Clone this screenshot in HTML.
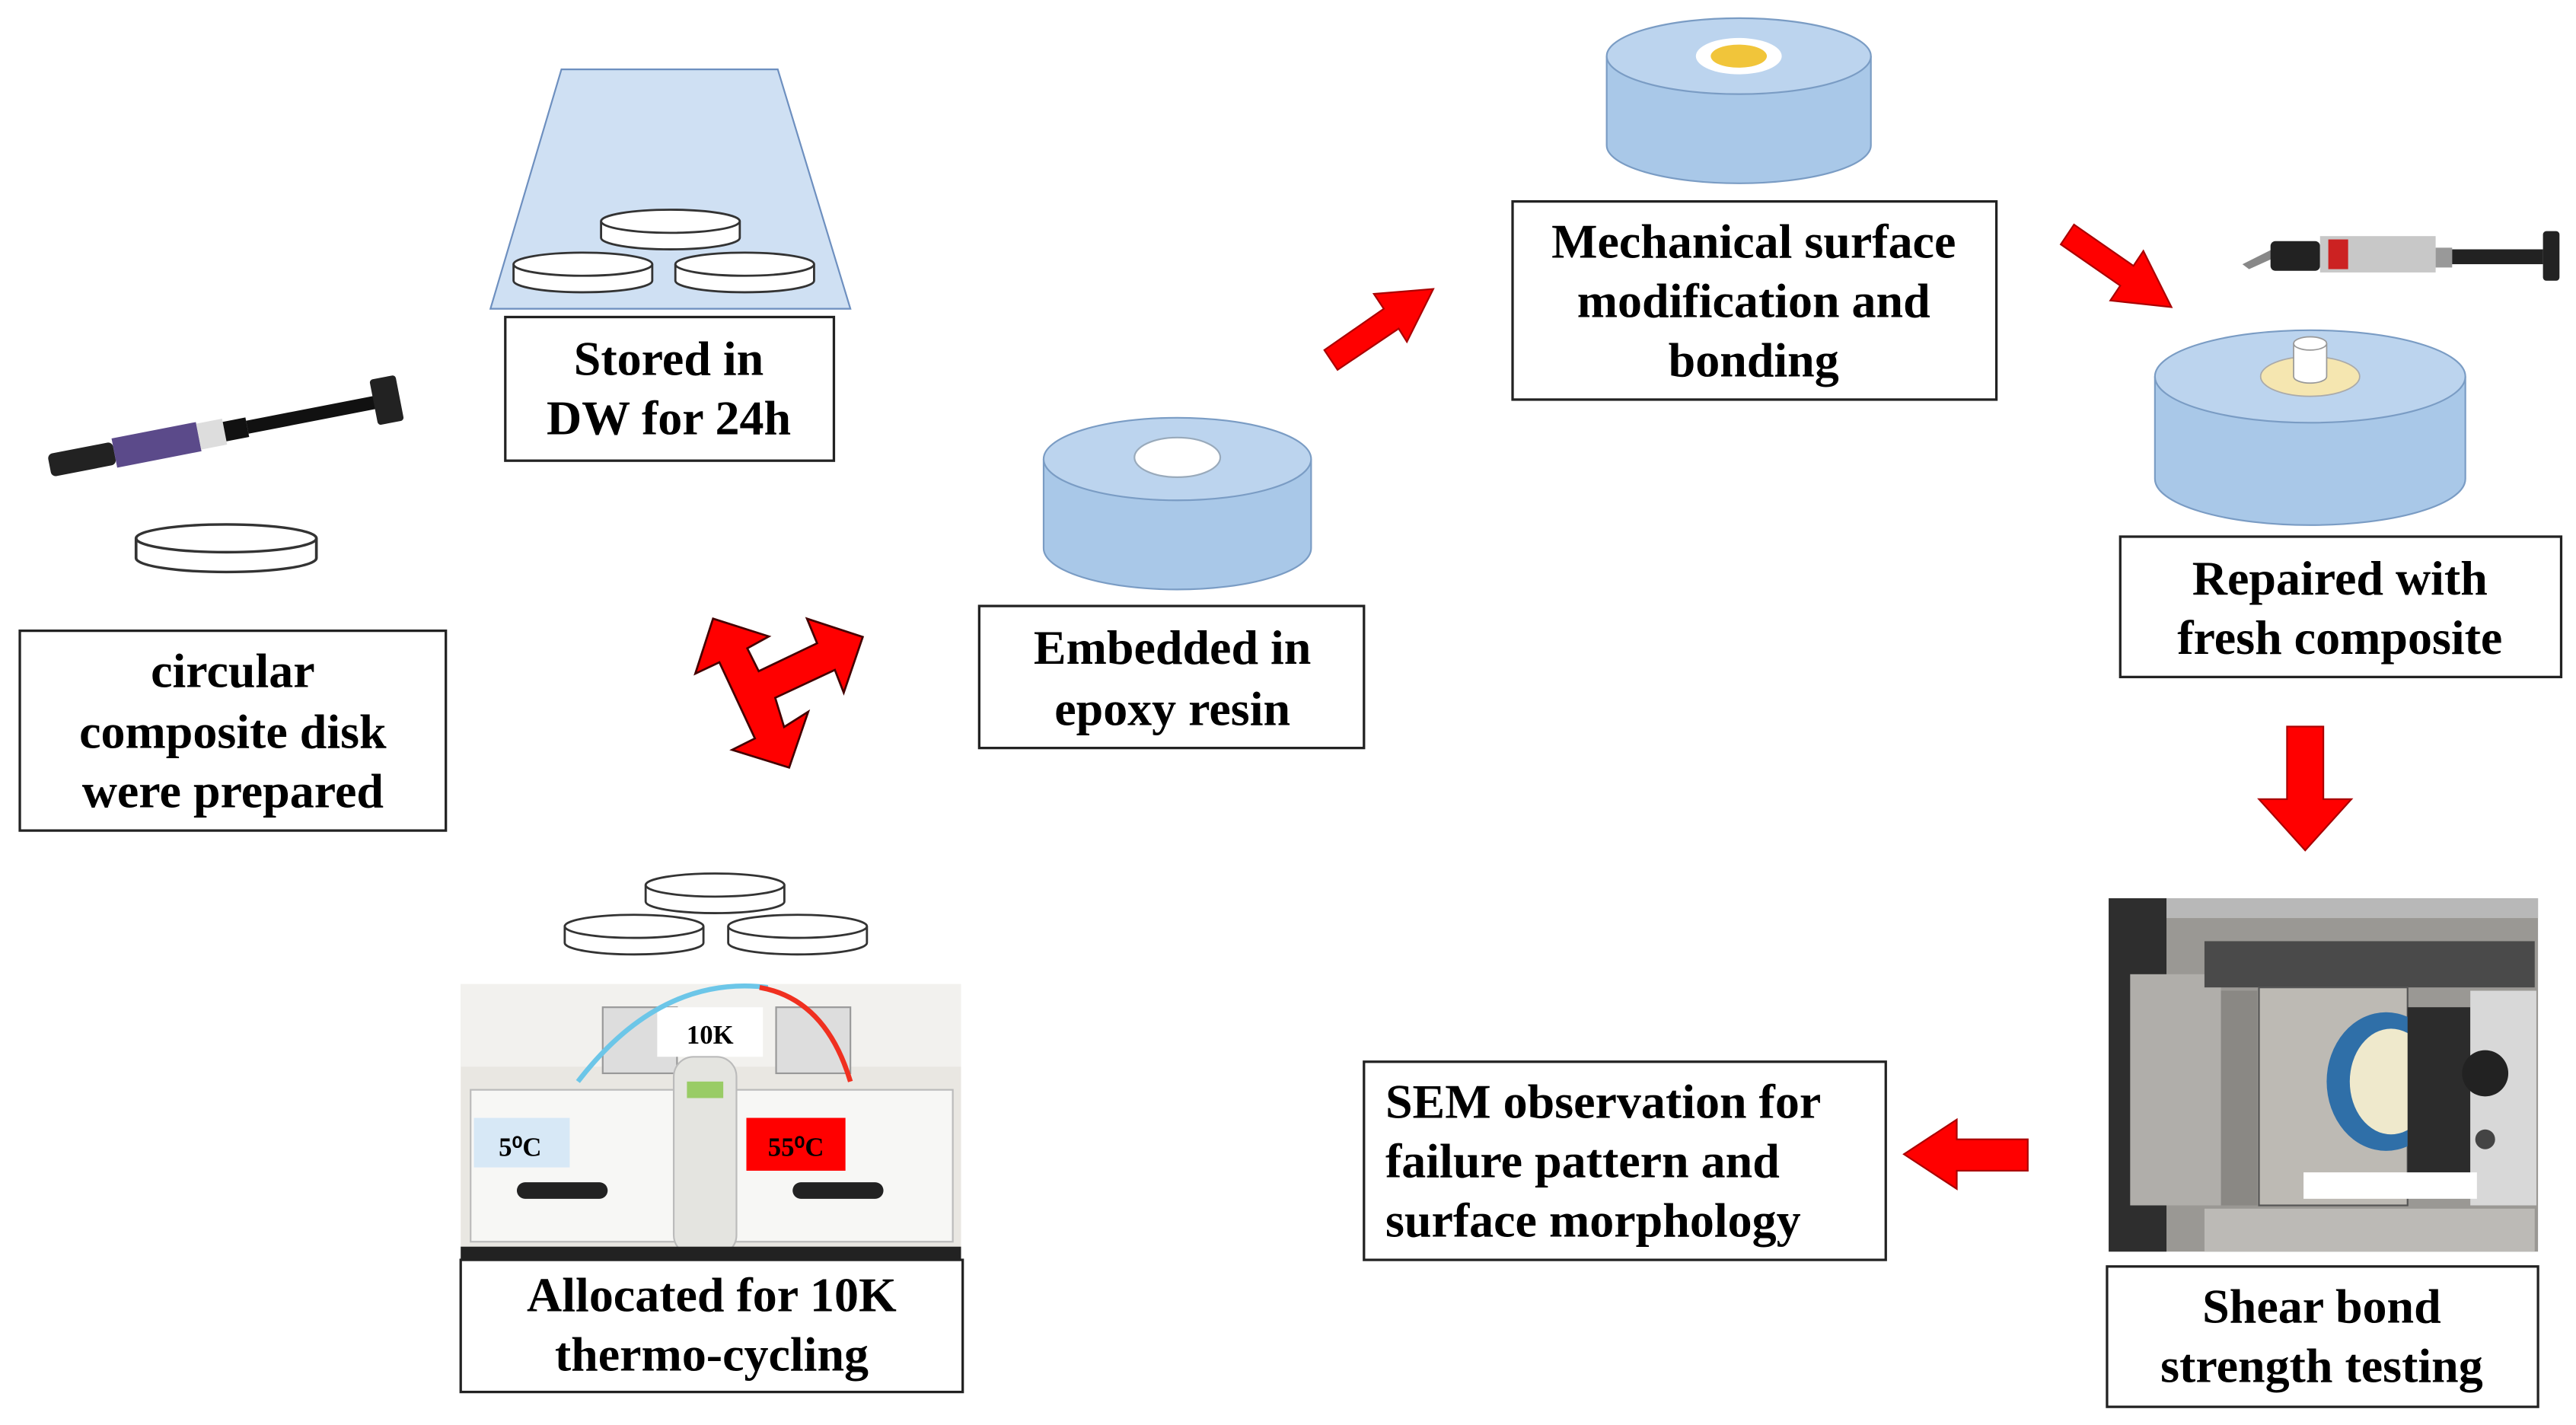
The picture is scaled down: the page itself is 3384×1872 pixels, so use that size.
<!DOCTYPE html>
<html><head><meta charset="utf-8"><style>
html,body{margin:0;padding:0;background:#fff;}
svg{display:block;}
text{font-family:"Liberation Serif",serif;font-weight:bold;fill:#000;}
</style></head><body>
<svg width="3384" height="1872" viewBox="0 0 1560 863" preserveAspectRatio="none" xmlns="http://www.w3.org/2000/svg">
<defs>
<g id="disk"><path d="M-42,0 L-42,10 A42,7 0 0 0 42,10 L42,0" fill="#fff" stroke="#333" stroke-width="1.3"/><ellipse cx="0" cy="0" rx="42" ry="7" fill="#fff" stroke="#333" stroke-width="1.3"/></g>
</defs>
<rect width="1560" height="863" fill="#fff"/>

<!-- syringe left -->
<g transform="translate(30,282) rotate(-11)">
<rect x="0" y="-7" width="40" height="14" fill="#222" rx="3"/>
<rect x="40" y="-9" width="52" height="18" fill="#5b4a8a"/>
<rect x="92" y="-8" width="16" height="16" fill="#ddd"/>
<rect x="108" y="-6" width="14" height="12" fill="#111"/>
<rect x="122" y="-4" width="80" height="8" fill="#111"/>
<rect x="200" y="-14" width="16" height="28" fill="#222" rx="2"/>
</g>
<g transform="translate(137,326) scale(1.3,1.2)"><use href="#disk"/></g>
<rect x="12" y="382" width="258" height="121" fill="#fff" stroke="#222" stroke-width="1.5"/>
<text x="141" y="416" font-size="29.5" text-anchor="middle">circular</text>
<text x="141" y="453" font-size="29.5" text-anchor="middle">composite disk</text>
<text x="141" y="489" font-size="29.5" text-anchor="middle">were prepared</text>

<!-- trapezoid -->
<polygon points="340,42 471,42 515,187 297,187" fill="#cfe0f3" stroke="#6d8fbf" stroke-width="1"/>
<g transform="translate(406,134)"><use href="#disk"/></g>
<g transform="translate(353,160)"><use href="#disk"/></g>
<g transform="translate(451,160)"><use href="#disk"/></g>
<rect x="306" y="192" width="199" height="87" fill="#fff" stroke="#222" stroke-width="1.5"/>
<text x="405" y="227" font-size="29.5" text-anchor="middle">Stored in</text>
<text x="405" y="263" font-size="29.5" text-anchor="middle">DW for 24h</text>

<!-- triple arrow -->
<g transform="translate(414.9,364.2) scale(0.1537)">
<polygon points="110,68 330,138 245,185 290,275 520,165 480,68 700,140 625,360 590,270 355,380 390,495 485,435 410,655 185,585 275,540 135,240 40,285" fill="#f00" stroke="#400" stroke-width="8" stroke-linejoin="miter"/>
</g>

<!-- embedded cylinder -->
<path d="M632,278 L632,332 A81,25 0 0 0 794,332 L794,278" fill="#a9c8e8" stroke="#7a9cc4" stroke-width="1"/>
<ellipse cx="713" cy="278" rx="81" ry="25" fill="#bcd4ee" stroke="#7a9cc4" stroke-width="1"/>
<ellipse cx="713" cy="277" rx="26" ry="12" fill="#fff" stroke="#9ab" stroke-width="1"/>
<rect x="593" y="367" width="233" height="86" fill="#fff" stroke="#222" stroke-width="1.5"/>
<text x="710" y="402" font-size="29.5" text-anchor="middle">Embedded in</text>
<text x="710" y="439" font-size="29.5" text-anchor="middle">epoxy resin</text>

<!-- arrow up-right -->
<polygon points="802,212 838,187 832,178 868,175 852,207 847,199 810,224" fill="#f00" stroke="#a00" stroke-width="1"/>

<!-- top cylinder -->
<path d="M973,34 L973,88 A80,23 0 0 0 1133,88 L1133,34" fill="#a9c8e8" stroke="#7a9cc4" stroke-width="1"/>
<ellipse cx="1053" cy="34" rx="80" ry="23" fill="#bcd4ee" stroke="#7a9cc4" stroke-width="1"/>
<ellipse cx="1053" cy="34" rx="26" ry="11" fill="#fff"/>
<ellipse cx="1053" cy="34" rx="17" ry="7" fill="#f1c53a"/>
<rect x="916" y="122" width="293" height="120" fill="#fff" stroke="#222" stroke-width="1.5"/>
<text x="1062" y="156" font-size="29.5" text-anchor="middle">Mechanical surface</text>
<text x="1062" y="192" font-size="29.5" text-anchor="middle">modification and</text>
<text x="1062" y="228" font-size="29.5" text-anchor="middle">bonding</text>

<!-- arrow down-right -->
<polygon points="1248,148 1256,136 1292,161 1298,152 1315,186 1278,182 1284,173" fill="#f00" stroke="#a00" stroke-width="1"/>

<!-- syringe right -->
<g>
<polygon points="1358,160 1378,150 1382,154 1362,163" fill="#888"/>
<rect x="1375" y="146" width="30" height="18" fill="#222" rx="3"/>
<rect x="1405" y="143" width="70" height="22" fill="#c8c8c8"/>
<rect x="1410" y="145" width="12" height="18" fill="#c22"/>
<rect x="1475" y="150" width="10" height="12" fill="#999"/>
<rect x="1485" y="151" width="55" height="9" fill="#222"/>
<rect x="1540" y="140" width="10" height="30" fill="#222" rx="2"/>
</g>

<!-- right cylinder -->
<path d="M1305,228 L1305,290 A94,28 0 0 0 1493,290 L1493,228" fill="#a9c8e8" stroke="#7a9cc4" stroke-width="1"/>
<ellipse cx="1399" cy="228" rx="94" ry="28" fill="#bcd4ee" stroke="#7a9cc4" stroke-width="1"/>
<ellipse cx="1399" cy="228" rx="30" ry="12" fill="#f5e6b0" stroke="#aaa" stroke-width="0.8"/>
<path d="M1389,208 L1389,228 A10,4 0 0 0 1409,228 L1409,208" fill="#fff" stroke="#999" stroke-width="0.8"/>
<ellipse cx="1399" cy="208" rx="10" ry="4" fill="#fff" stroke="#999" stroke-width="0.8"/>
<rect x="1284" y="325" width="267" height="85" fill="#fff" stroke="#222" stroke-width="1.5"/>
<text x="1417" y="360" font-size="29.5" text-anchor="middle">Repaired with</text>
<text x="1417" y="396" font-size="29.5" text-anchor="middle">fresh composite</text>

<!-- down arrow -->
<polygon points="1385,440 1407,440 1407,484 1424,484 1396,515 1368,484 1385,484" fill="#f00" stroke="#a00" stroke-width="1"/>

<!-- shear photo -->
<rect x="1277" y="544" width="260" height="214" fill="#9a9894"/>
<rect x="1277" y="544" width="260" height="12" fill="#b8b8b8"/>
<rect x="1277" y="544" width="35" height="214" fill="#2e2e2e"/>
<rect x="1290" y="590" width="55" height="140" fill="#b0aeaa"/>
<rect x="1345" y="600" width="22" height="130" fill="#8a8884"/>
<rect x="1335" y="570" width="200" height="28" fill="#4a4a4a"/>
<rect x="1335" y="732" width="200" height="26" fill="#bcbab6"/>
<rect x="1368" y="598" width="90" height="132" fill="#bdbab4" stroke="#555"/>
<ellipse cx="1445" cy="655" rx="36" ry="42" fill="#2f6fa8"/>
<ellipse cx="1448" cy="655" rx="25" ry="32" fill="#efe9cc"/>
<rect x="1458" y="610" width="38" height="108" fill="#2c2c2c"/>
<rect x="1496" y="600" width="40" height="130" fill="#d8d8d8"/>
<circle cx="1505" cy="650" r="14" fill="#222"/>
<circle cx="1505" cy="690" r="6" fill="#444"/>
<rect x="1395" y="710" width="105" height="16" fill="#fff"/>
<rect x="1276" y="767" width="261" height="85" fill="#fff" stroke="#222" stroke-width="1.5"/>
<text x="1406" y="801" font-size="29.5" text-anchor="middle">Shear bond</text>
<text x="1406" y="837" font-size="29.5" text-anchor="middle">strength testing</text>

<!-- left arrow -->
<polygon points="1228,690 1228,709 1185,709 1185,720 1153,699 1185,678 1185,690" fill="#f00" stroke="#a00" stroke-width="1"/>
<rect x="826" y="643" width="316" height="120" fill="#fff" stroke="#222" stroke-width="1.5"/>
<text x="839" y="677" font-size="29.5">SEM observation for</text>
<text x="839" y="713" font-size="29.5">failure pattern and</text>
<text x="839" y="749" font-size="29.5">surface morphology</text>

<!-- bottom disks -->
<g transform="translate(433,536)"><use href="#disk"/></g>
<g transform="translate(384,561)"><use href="#disk"/></g>
<g transform="translate(483,561)"><use href="#disk"/></g>

<!-- thermocycler photo -->
<rect x="279" y="596" width="303" height="166" fill="#e9e7e2"/>
<rect x="279" y="596" width="303" height="50" fill="#f2f1ee"/>
<rect x="365" y="610" width="45" height="40" fill="#ddd" stroke="#999"/>
<rect x="470" y="610" width="45" height="40" fill="#ddd" stroke="#999"/>
<rect x="398" y="610" width="64" height="30" fill="#fff"/>
<text x="430" y="632" font-size="16" text-anchor="middle">10K</text>
<path d="M350,655 Q400,590 465,598" fill="none" stroke="#6cc6e8" stroke-width="3"/>
<path d="M460,598 Q500,605 515,655" fill="none" stroke="#f03020" stroke-width="3"/>
<rect x="285" y="660" width="125" height="92" fill="#f7f7f5" stroke="#bbb"/>
<rect x="445" y="660" width="132" height="92" fill="#f7f7f5" stroke="#bbb"/>
<rect x="408" y="640" width="38" height="120" fill="#e4e4e0" stroke="#bbb" rx="12"/>
<rect x="416" y="655" width="22" height="10" fill="#9c6"/>
<rect x="287" y="677" width="58" height="30" fill="#d7e8f6"/>
<text x="315" y="700" font-size="16" text-anchor="middle">5⁰C</text>
<rect x="452" y="677" width="60" height="32" fill="#f00"/>
<text x="482" y="700" font-size="16" text-anchor="middle" fill="#600">55⁰C</text>
<rect x="313" y="716" width="55" height="10" rx="5" fill="#222"/>
<rect x="480" y="716" width="55" height="10" rx="5" fill="#222"/>
<rect x="279" y="755" width="303" height="8" fill="#222"/>
<rect x="279" y="763" width="304" height="80" fill="#fff" stroke="#222" stroke-width="1.5"/>
<text x="431" y="794" font-size="29.5" text-anchor="middle">Allocated for 10K</text>
<text x="431" y="830" font-size="29.5" text-anchor="middle">thermo-cycling</text>
</svg>
</body></html>
